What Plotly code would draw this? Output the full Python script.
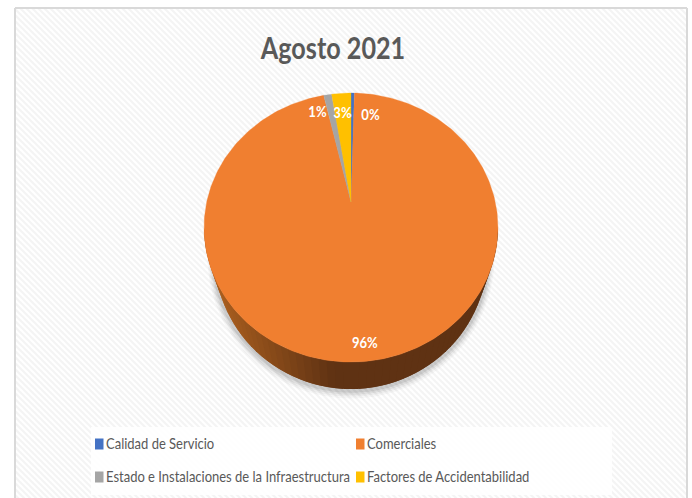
import base64
import json
import numpy as np
import plotly.graph_objects as go

# ---- data ----
TITLE = "Agosto 2021"
categories = ["Calidad de Servicio", "Comerciales",
              "Estado e Instalaciones de la Infraestructura", "Factores de Accidentabilidad"]
values = [0.45, 95.95, 1.05, 2.55]
labels = ["0%", "96%", "1%", "3%"]

# ---- styles ----
colors = ["#4472C4", "#F07F30", "#A5A5A5", "#FFC000"]
label_shift = [(18, -7), (0, -9), (-13, -2), (0, -5)]
legend_pos = [(95, 444), (356, 444), (95, 477), (356, 477)]
W, H = 692, 498
CX, CY = 351, 202      # pie centre (perspective apex) in pixels
RX, RY = 144.3, 129.7  # pixels per pie unit
K = 0.19               # perspective foreshortening
DEPTH = 27 / RY
BASE_SCALE = 0.93
FONT = "Lato, Open Sans, sans-serif"


def project(theta, r=1.0):
    s, c = r * np.sin(theta), r * np.cos(theta)
    w = 1 + K * c
    return s / w, c / w


def lerp_color(t):
    a, b = (176, 98, 32), (95, 50, 19)
    return "rgb(%d,%d,%d)" % tuple(round(a[i] + (b[i] - a[i]) * t) for i in range(3))


fig = go.Figure()

# soft shadow below the pie
t_all = np.linspace(0, 2 * np.pi, 241)
sx, sy = project(t_all)
for grow, alpha in [(1.05, 0.03), (1.04, 0.04), (1.03, 0.06), (1.02, 0.08)]:
    fig.add_trace(go.Scatter(x=sx * BASE_SCALE * grow, y=(sy - DEPTH) * grow, mode="lines",
                             fill="toself", fillcolor=f"rgba(0,0,0,{alpha})", line=dict(width=0),
                             hoverinfo="skip", showlegend=False))

# side wall: strips left to right, each overlapping the next so no seams show
start = np.arccos(-K)
edges = np.linspace(2 * np.pi - start, start, 61)
for j in range(len(edges) - 1):
    a = edges[j]
    b = edges[min(j + 2, len(edges) - 1)]
    xa, ya = project(a)
    xb, yb = project(b)
    tint = min(1.0, max(0.0, (xa * RX + 147) / 125))
    col = lerp_color(tint)
    fig.add_trace(go.Scatter(
        x=[xa, xb, xb * BASE_SCALE, xa * BASE_SCALE, xa],
        y=[ya, yb, yb - DEPTH, ya - DEPTH, ya],
        mode="lines", fill="toself", fillcolor=col, line=dict(width=0),
        hoverinfo="skip", showlegend=False))

# top face: slices clockwise from 12 o'clock
fractions = np.array(values) / sum(values)
ends = np.cumsum(fractions) * 2 * np.pi
starts = ends - fractions * 2 * np.pi
annotations = []
for i, name in enumerate(categories):
    th = np.linspace(starts[i], ends[i], max(4, int(fractions[i] * 360)))
    px, py = project(th)
    fig.add_trace(go.Scatter(
        x=np.r_[0, px, 0], y=np.r_[0, py, 0], mode="lines", fill="toself", name=name,
        fillcolor=colors[i], line=dict(width=0.3, color=colors[i]),
        showlegend=False, hovertemplate=f"{name}: {labels[i]}<extra></extra>"))
    lx, ly = project((starts[i] + ends[i]) / 2, 0.85)
    annotations.append(dict(x=float(lx), y=float(ly), xref="x", yref="y", text=labels[i],
                            showarrow=False, xshift=label_shift[i][0], yshift=label_shift[i][1],
                            font=dict(family=FONT, size=15, color="white", weight=700)))

# background: fine diagonal hatching inside a light frame
svg = (f'<svg xmlns="http://www.w3.org/2000/svg" width="{W}" height="{H}">'
       '<defs><pattern id="p" width="6" height="6" patternUnits="userSpaceOnUse">'
       '<rect width="6" height="6" fill="#ffffff"/>'
       '<path d="M-1,-1 L7,7 M-1,5 L1,7 M5,-1 L7,1" stroke="#f4f4f4" stroke-width="2"/>'
       '</pattern></defs>'
       f'<rect x="15" y="8" width="672" height="{H}" fill="url(#p)"/></svg>')
uri = "data:image/svg+xml;base64," + base64.b64encode(svg.encode()).decode()


def px_x(v):
    return v / W


def px_y(v):
    return 1 - v / H


shapes = [
    dict(type="line", xref="paper", yref="paper", x0=px_x(15), x1=px_x(15), y0=px_y(8), y1=0,
         line=dict(color="#d9d9d9", width=2), layer="below"),
    dict(type="line", xref="paper", yref="paper", x0=px_x(15), x1=px_x(687), y0=px_y(8), y1=px_y(8),
         line=dict(color="#d9d9d9", width=2), layer="below"),
    dict(type="line", xref="paper", yref="paper", x0=px_x(687), x1=px_x(687), y0=px_y(8), y1=0,
         line=dict(color="#d9d9d9", width=2), layer="below"),
    dict(type="rect", xref="paper", yref="paper", x0=px_x(91), x1=px_x(612), y0=px_y(427), y1=px_y(495),
         fillcolor="rgba(255,255,255,0.85)", line=dict(width=0), layer="below"),
]
for i, name in enumerate(categories):
    lx, ly = legend_pos[i]
    shapes.append(dict(type="rect", xref="paper", yref="paper", x0=px_x(lx), x1=px_x(lx + 8.5),
                       y0=px_y(ly - 5.5), y1=px_y(ly + 5.5), fillcolor=colors[i], line=dict(width=0)))
    annotations.append(dict(x=px_x(lx + 9), y=px_y(ly - 1.5), xref="paper", yref="paper", text=name,
                            xanchor="left", yanchor="middle", showarrow=False,
                            font=dict(family=FONT, size=15, color="#595959")))

annotations.append(dict(x=px_x(332.5), y=px_y(47), xref="paper", yref="paper",
                        text=TITLE, showarrow=False, xanchor="center", yanchor="middle",
                        font=dict(family=FONT, size=30, color="#595959", weight=700)))

fig.update_layout(
    width=W, height=H, margin=dict(l=0, r=0, t=0, b=0), showlegend=False,
    paper_bgcolor="white", plot_bgcolor="rgba(0,0,0,0)",
    xaxis=dict(range=[-CX / RX, (W - CX) / RX], visible=False, fixedrange=True),
    yaxis=dict(range=[-(H - CY) / RY, CY / RY], visible=False, fixedrange=True),
    images=[dict(source=uri, xref="paper", yref="paper", x=0, y=1, sizex=1, sizey=1,
                 sizing="stretch", xanchor="left", yanchor="top", layer="below")],
    shapes=shapes, annotations=annotations,
)

# The reference text is horizontally condensed: narrow every text, keeping it real text.
post = """
document.body.style.margin = '0';
var leftAligned = %s;
document.querySelectorAll('.annotation-text').forEach(function (t) {
  var full = t.getComputedTextLength();
  var left = leftAligned.indexOf(t.textContent) >= 0;
  var len = full * (t.textContent === %s ? 0.84 : (left ? 0.866 : 0.87));
  t.setAttribute('lengthAdjust', 'spacingAndGlyphs');
  t.setAttribute('textLength', len);
  if (left) {
    t.setAttribute('x', parseFloat(t.getAttribute('x')) - (full - len) / 2);
    t.parentNode.querySelectorAll('rect').forEach(function (r) { r.setAttribute('width', len + 2); });
  }
});
""" % (json.dumps(categories), json.dumps(TITLE))
fig.write_html("out.html", config={"displayModeBar": False}, post_script=post)
